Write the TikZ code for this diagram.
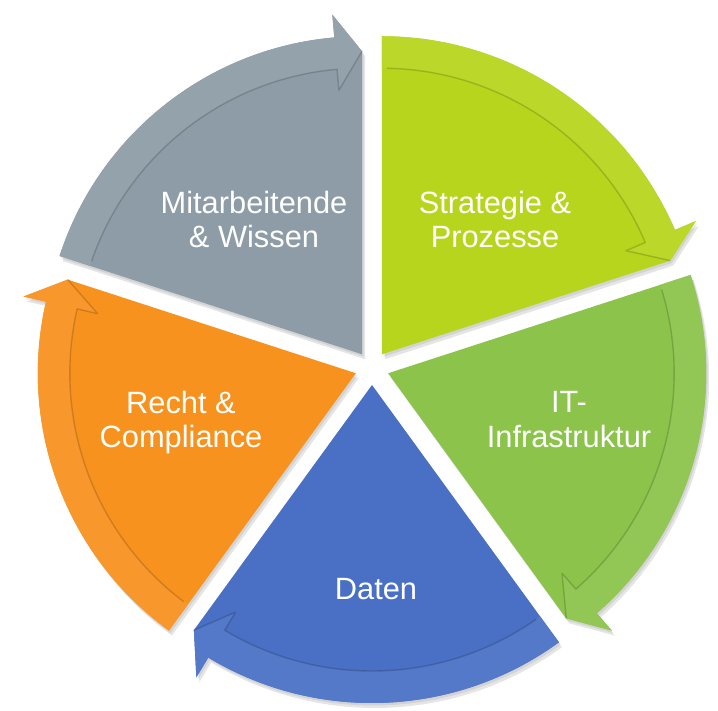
\documentclass[tikz,border=0pt]{standalone}
\usepackage{fontspec}
\setmainfont{Liberation Sans}
\definecolor{cgray}{RGB}{141,156,166}
\definecolor{clime}{RGB}{182,213,28}
\definecolor{cgreen}{RGB}{139,195,75}
\definecolor{cblue}{RGB}{73,112,196}
\definecolor{corange}{RGB}{247,146,30}
\newcommand\pieR{318}
\newcommand\pieShape[1]{% #1 start angle (sector runs clockwise 72 deg)
  (0,0) -- (#1:\pieR) arc[start angle=#1, end angle=#1-67, radius=\pieR]
  -- (#1-67:341) -- (#1-72:303) -- cycle}
\newcommand\pieSegment[3]{% #1 colour, #2 start angle, #3 apex
  \begin{scope}[shift={(#3)}]
    \fill[black, opacity=.10, shift={(3,-5)}] \pieShape{#2};
    \fill[black, opacity=.08, shift={(1.5,-2.5)}] \pieShape{#2};
    \fill[#1] \pieShape{#2};
    \fill[#1!94!white] (#2:286) arc[start angle=#2, end angle=#2-67, radius=286]
      -- (#2-67:265) -- (#2-72:303) -- (#2-67:341) -- (#2-67:\pieR)
      arc[start angle=#2-67, end angle=#2, radius=\pieR] -- cycle;
    \draw[#1!60!black, opacity=.4, line width=1.4pt, line join=round]
      (#2-1:286) arc[start angle=#2-1, end angle=#2-67, radius=286]
      -- (#2-67:265) -- (#2-72:303);
  \end{scope}}
\tikzset{lbl/.style={text=white, font=\fontsize{30.8}{34.5}\selectfont, align=center, inner sep=0pt}}
\begin{document}
\begin{tikzpicture}[x=1pt,y=1pt]
\useasboundingbox (0,0) rectangle (718,710);
\fill[white] (0,0) rectangle (718,710);
\coordinate (C) at (372,342);
\coordinate (Agray) at ([shift={(126:17)}]C);
\coordinate (Alime) at ([shift={(54:17)}]C);
\coordinate (Agreen) at ([shift={(-18:17)}]C);
\coordinate (Ablue) at ([shift={(-90:17)}]C);
\coordinate (Aorange) at ([shift={(198:17)}]C);
\pieSegment{cblue}{306}{Ablue}
\pieSegment{corange}{234}{Aorange}
\pieSegment{cgreen}{18}{Agreen}
\pieSegment{clime}{90}{Alime}
\pieSegment{cgray}{162}{Agray}
\node[lbl] (mw) at (254,490.5) {Mitarbeitende\\\& Wissen};
\node[lbl] (sp) at (495,490.5) {Strategie \&\\Prozesse};
\node[lbl] (it) at (569,290.5) {IT-\\Infrastruktur};
\node[lbl] (rc) at (181,287.5) {Recht \&\\Compliance};
\node[lbl] (da) at (376,121) {Daten};
\end{tikzpicture}
\end{document}
